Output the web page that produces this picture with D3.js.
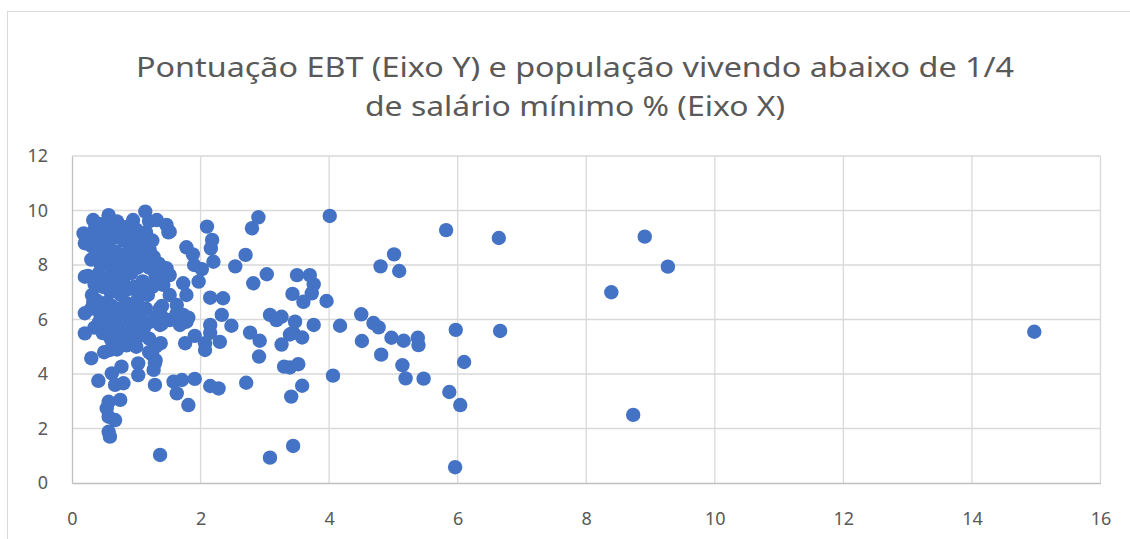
<!DOCTYPE html>
<html>
<head>
<meta charset="utf-8">
<script src="https://cdn.jsdelivr.net/npm/d3@7"></script>
<style>
  body { margin: 0; background: #fff; }
  svg { display: block; font-family: "Noto Sans", "Open Sans", sans-serif; }
</style>
</head>
<body>
<svg id="chart" width="1130" height="539"></svg>
<script>
const titleLines = ['Pontuação EBT (Eixo Y) e população vivendo abaixo de 1/4', 'de salário mínimo % (Eixo X)']
const xTicks = [0, 2, 4, 6, 8, 10, 12, 14, 16]
const yTicks = [0, 2, 4, 6, 8, 10, 12]

// x = % abaixo de 1/4 salário mínimo, y = pontuação EBT
const pontosDispersos = [
  [1.73,7.33],[1.78,8.65],[1.88,8.39],[1.90,8.00],[2.02,7.85],[1.97,7.39],[2.10,9.41],[2.18,8.92],
  [2.16,8.61],[2.20,8.12],[2.54,7.95],[2.70,8.37],[2.80,9.35],[2.90,9.75],[3.03,7.66],[2.82,7.33],
  [1.78,6.90],[2.15,6.80],[2.35,6.78],[3.50,7.63],[3.70,7.63],[3.76,7.29],[3.73,6.96],[3.43,6.94],
  [3.60,6.65],[3.96,6.68],[4.01,9.80],[4.80,7.95],[5.01,8.39],[5.09,7.78],[4.50,6.19],[4.17,5.77],
  [4.69,5.87],[4.77,5.71],[4.51,5.21],[4.97,5.33],[5.16,5.22],[5.38,5.33],[5.39,5.06],[4.81,4.71],
  [5.14,4.32],[4.06,3.94],[5.19,3.84],[5.47,3.83],[3.08,6.17],[3.26,6.10],[3.18,5.98],[3.47,5.92],
  [1.73,6.17],[1.81,6.07],[2.15,5.80],[2.33,6.17],[2.48,5.77],[1.78,5.92],[1.68,5.80],[2.77,5.52],
  [2.92,5.22],[3.44,5.52],[3.39,5.45],[3.58,5.34],[3.76,5.80],[1.91,5.40],[2.15,5.51],[2.30,5.18],
  [2.07,5.13],[3.26,5.08],[1.76,5.13],[2.07,4.88],[2.91,4.64],[3.30,4.27],[3.39,4.24],[3.52,4.36],
  [3.58,3.57],[3.41,3.17],[1.71,3.78],[1.91,3.82],[2.15,3.56],[2.28,3.47],[2.71,3.68],[1.81,2.86],
  [3.44,1.36],[3.08,0.93],
  [5.82,9.28],[6.64,8.99],[6.66,5.58],[5.97,5.62],[6.10,4.44],[5.87,3.34],[6.04,2.86],[5.96,0.58],
  [8.39,7.00],[8.73,2.50],[8.91,9.04],[9.27,7.94],[14.97,5.55]
]

const pontosBaixos = [
  [0.20,5.49],[0.30,4.58],[0.59,4.88],[1.38,5.13],[1.03,4.39],[0.77,4.27],[1.29,4.39],[1.27,4.15],
  [1.03,3.96],[0.41,3.75],[0.62,4.02],[0.80,3.66],[0.67,3.60],[1.29,3.60],[1.58,3.72],[1.63,3.29],
  [0.57,2.98],[0.75,3.05],[0.54,2.74],[0.57,2.43],[0.67,2.31],[0.57,1.88],[0.59,1.70],[1.37,1.03]
]

const pontosDensos = [
  [0.33,9.65],[0.57,9.83],[1.14,9.96],[0.95,9.65],[1.32,9.65],[1.47,9.47],[1.52,9.22],[0.18,9.16],
  [0.20,8.80],[0.20,7.57],[0.31,6.90],[0.33,6.65],[0.20,6.23],[1.52,6.90],[1.63,6.53],[1.37,6.41],
  [1.14,7.20],[1.27,8.30],[1.21,8.55],[1.32,7.63],[1.52,7.63],[1.47,7.88],[1.37,5.80],[1.52,5.98],
  [1.63,6.23],
  [0.25,9.00],[0.30,8.70],[0.35,9.30],[0.40,8.90],[0.45,9.50],[0.50,9.10],[0.55,8.80],[0.60,9.40],
  [0.65,9.00],[0.70,9.60],[0.75,9.20],[0.80,8.90],[0.85,9.40],[0.90,9.10],[0.95,8.80],[1.00,9.30],
  [1.05,9.00],[1.10,8.70],[1.15,9.20],[1.25,8.90],[1.20,9.60],[1.50,9.20],
  [0.30,8.20],[0.38,8.40],[0.45,8.00],[0.50,8.50],[0.58,8.20],[0.62,7.90],[0.68,8.50],[0.72,8.10],
  [0.78,7.80],[0.82,8.40],[0.88,8.00],[0.93,8.60],[0.98,8.20],[1.02,7.90],[1.08,8.40],[1.12,8.10],
  [1.20,7.90],[1.30,7.60],[1.40,7.30],[1.35,8.05],[1.42,7.27],
  [0.25,7.60],[0.35,7.30],[0.42,7.70],[0.48,7.20],[0.55,7.50],[0.60,7.00],[0.65,7.60],[0.70,7.30],
  [0.76,6.90],[0.80,7.50],[0.86,7.10],[0.92,7.70],[0.97,7.20],[1.03,6.80],[1.10,7.40],[1.18,6.90],
  [1.25,7.20],
  [0.30,6.40],[0.38,6.70],[0.44,6.20],[0.50,6.60],[0.56,6.10],[0.62,6.50],[0.68,6.00],[0.73,6.40],
  [0.80,6.20],[0.85,6.60],[0.90,5.90],[0.96,6.30],[1.02,6.60],[1.08,6.00],[1.15,6.40],[1.20,5.90],
  [1.30,6.10],[1.40,5.85],[1.40,6.50],[1.40,6.10],
  [0.35,5.70],[0.42,5.90],[0.48,5.50],[0.55,5.80],[0.60,5.30],[0.66,5.60],[0.72,5.20],[0.78,5.50],
  [0.84,5.70],[0.90,5.30],[0.97,5.60],[1.05,5.40],[1.12,5.70],[1.20,5.30],[1.30,5.00],[0.50,4.80],
  [0.70,4.90],[0.85,5.05],[1.00,5.00],[1.25,4.70],[1.30,4.50],[1.20,4.80]
]

const svg = d3.select('#chart')
const W = 1130, H = 539
const margin = {left: 72, right: 29.5, top: 156, bottom: 56}

// borda do gráfico
svg.append('rect')
    .attr('x', 7.5).attr('y', 11.5)
    .attr('width', W + 10).attr('height', H + 10)
    .attr('fill', '#fff').attr('stroke', '#d9d9d9').attr('stroke-width', 1)

const x = d3.scaleLinear().domain([0, 16]).range([margin.left, W - margin.right])
const y = d3.scaleLinear().domain([0, 12]).range([H - margin.bottom, margin.top])

// grades
svg.append('g').selectAll('line').data(xTicks.filter(d => d > 0))
    .enter().append('line')
    .attr('x1', d => x(d)).attr('x2', d => x(d))
    .attr('y1', y(0)).attr('y2', y(12))
    .attr('stroke', '#d9d9d9').attr('stroke-width', 1.3)

svg.append('g').selectAll('line').data(yTicks.filter(d => d > 0))
    .enter().append('line')
    .attr('x1', x(0)).attr('x2', x(16))
    .attr('y1', d => y(d)).attr('y2', d => y(d))
    .attr('stroke', '#d9d9d9').attr('stroke-width', 1.3)

// eixos
const xAxis = svg.append('g')
    .attr('transform', `translate(0,${y(0)})`)
    .call(d3.axisBottom(x).tickValues(xTicks).tickSize(0).tickPadding(26).tickFormat(d3.format('d')))
const yAxis = svg.append('g')
    .attr('transform', `translate(${x(0)},0)`)
    .call(d3.axisLeft(y).tickValues(yTicks).tickSize(0).tickPadding(24).tickFormat(d3.format('d')))

;[xAxis, yAxis].forEach(a => {
    a.select('.domain').attr('stroke', '#bfbfbf').attr('stroke-width', 1.3)
    a.selectAll('text').attr('fill', '#595959').attr('font-size', '18px')
        .attr('font-family', '"Noto Sans", sans-serif')
})
xAxis.selectAll('text').attr('dy', '0.9em')

// pontos
const todos = pontosDensos.concat(pontosBaixos, pontosDispersos)
svg.append('g').selectAll('circle').data(todos)
    .enter().append('circle')
    .attr('cx', d => x(d[0]))
    .attr('cy', d => y(d[1]))
    .attr('r', 7.2)
    .attr('fill', '#4472c4')

// título
const titleY = [77, 116]
const titleW = [878, 420]
svg.append('g').selectAll('text').data(titleLines)
    .enter().append('text')
    .attr('x', 575).attr('y', (d, i) => titleY[i])
    .attr('text-anchor', 'middle')
    .attr('font-size', '28px')
    .attr('fill', '#595959')
    .attr('textLength', (d, i) => titleW[i])
    .attr('lengthAdjust', 'spacingAndGlyphs')
    .text(d => d)
</script>
</body>
</html>
